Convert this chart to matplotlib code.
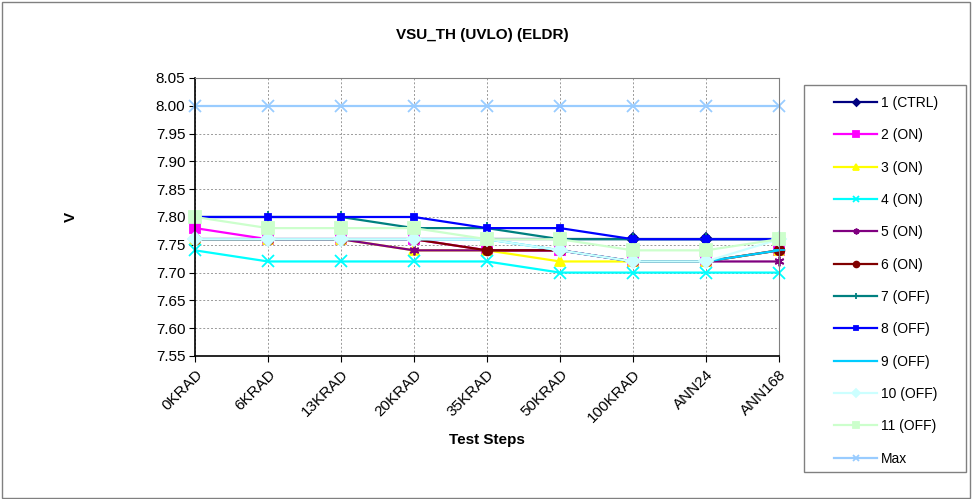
import matplotlib.pyplot as plt

steps = ["0KRAD", "6KRAD", "13KRAD", "20KRAD", "35KRAD", "50KRAD", "100KRAD", "ANN24", "ANN168"]
names = ["1 (CTRL)", "2 (ON)", "3 (ON)", "4 (ON)", "5 (ON)", "6 (ON)",
         "7 (OFF)", "8 (OFF)", "9 (OFF)", "10 (OFF)", "11 (OFF)", "Max"]

s1 = [7.76, 7.76, 7.76, 7.76, 7.76, 7.76, 7.76, 7.76, 7.76]
s2 = [7.78, 7.76, 7.76, 7.76, 7.74, 7.74, 7.72, 7.72, 7.74]
s3 = [7.76, 7.76, 7.76, 7.74, 7.74, 7.72, 7.72, 7.72, 7.74]
s4 = [7.74, 7.72, 7.72, 7.72, 7.72, 7.70, 7.70, 7.70, 7.70]
s5 = [7.76, 7.76, 7.76, 7.74, 7.74, 7.74, 7.72, 7.72, 7.72]
s6 = [7.76, 7.76, 7.76, 7.76, 7.74, 7.74, 7.72, 7.72, 7.74]
s7 = [7.80, 7.80, 7.80, 7.78, 7.78, 7.76, 7.76, 7.76, 7.76]
s8 = [7.80, 7.80, 7.80, 7.80, 7.78, 7.78, 7.76, 7.76, 7.76]
s9 = [7.76, 7.76, 7.76, 7.76, 7.76, 7.74, 7.72, 7.72, 7.74]
s10 = [7.76, 7.76, 7.76, 7.76, 7.76, 7.74, 7.72, 7.72, 7.76]
s11 = [7.80, 7.78, 7.78, 7.78, 7.76, 7.76, 7.74, 7.74, 7.76]
smax = [8.00] * 9

series = [s1, s2, s3, s4, s5, s6, s7, s8, s9, s10, s11, smax]
colors = ["#000080", "#FF00FF", "#FFFF00", "#00FFFF", "#800080", "#800000",
          "#008080", "#0000FF", "#00CCFF", "#CCFFFF", "#CCFFCC", "#99CCFF"]
markers = ["D", "s", "^", "x", (6, 2, 0), "o", "+", "s", "_", "D", "s", "x"]
msizes = [6, 7, 7, 8, 7, 7, 8, 4, 8, 7, 8, 8]

plt.rcParams['font.family'] = ['Liberation Sans', 'DejaVu Sans']

fig = plt.figure(figsize=(9.73, 4.99), dpi=100)
fig.patch.set_facecolor("white")
ax = fig.add_axes([0.2004, 0.2866, 0.6002, 0.5571])

x = list(range(len(steps)))
for vals, name, c, m, ms in zip(series, names, colors, markers, msizes):
    ax.plot(x, vals, color=c, marker=m, markersize=ms, linewidth=1.6,
            markeredgewidth=1.3, label=name, clip_on=False)

ax.set_xlim(0, len(steps) - 1)
ax.set_ylim(7.55, 8.05)
ax.set_yticks([7.55 + 0.05 * i for i in range(11)])
ax.set_yticklabels([f"{7.55 + 0.05 * i:.2f}" for i in range(11)], fontsize=11)
ax.set_xticks(x)
ax.set_xticklabels(steps, rotation=45, ha="right", rotation_mode="anchor", fontsize=11)
ax.tick_params(axis="x", length=4, pad=4)
ax.tick_params(axis="y", length=4, pad=3)
ax.grid(True, color="#999999", linestyle=(0, (2, 2)), linewidth=0.7)
ax.set_axisbelow(True)
for side in ["top", "right"]:
    ax.spines[side].set_color("#808080")
for side in ["left", "bottom"]:
    ax.spines[side].set_color("black")
    ax.spines[side].set_linewidth(1.2)

ax.set_xlabel("Test Steps", fontsize=11, fontweight="bold", labelpad=6)
ax.set_ylabel("V", fontsize=11, fontweight="bold", rotation=90, labelpad=56)
fig.text(0.4956, 0.93, "VSU_TH (UVLO) (ELDR)", ha="center", va="center",
         fontsize=11, fontweight="bold")

# legend box drawn separately, legend itself frameless
box = plt.Rectangle((804 / 973, 1 - 472 / 499), 162 / 973, 387 / 499,
                    transform=fig.transFigure, fill=True, facecolor="white",
                    edgecolor="#808080", linewidth=1)
fig.patches.append(box)
leg = fig.legend(loc="upper left", bbox_to_anchor=(834 / 973, 1 - 96 / 499),
                 frameon=False, fontsize=10, handlelength=3.1,
                 labelspacing=1.32, borderaxespad=0, borderpad=0,
                 handletextpad=0.3, markerscale=0.6)

border = plt.Rectangle((0.002, 0.003), 0.995, 0.993, transform=fig.transFigure,
                       fill=False, edgecolor="#808080", linewidth=1)
fig.patches.append(border)

fig.savefig("out.png", dpi=100)
